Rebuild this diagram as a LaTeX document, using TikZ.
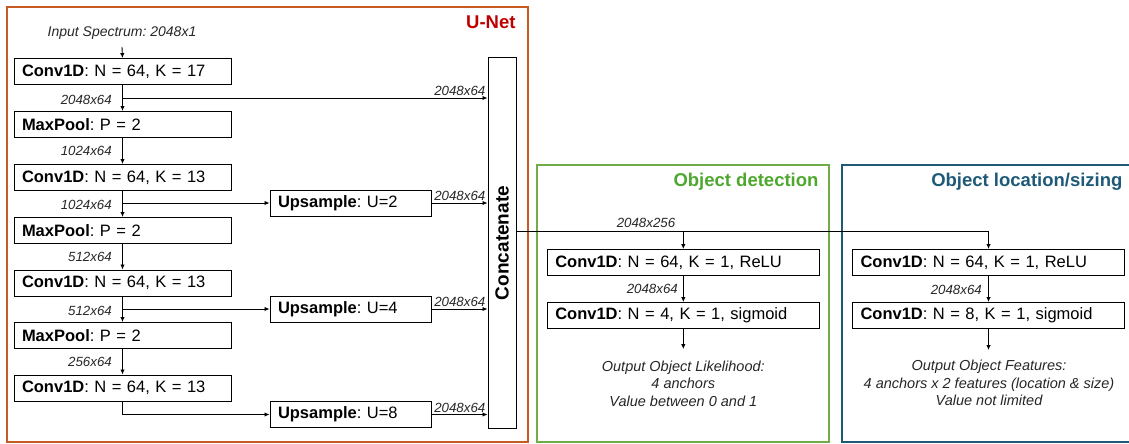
\documentclass[tikz,border=0pt]{standalone}
\usepackage{fontspec}
\setmainfont{Liberation Sans}
\usetikzlibrary{arrows.meta,calc}
\frenchspacing
\definecolor{unetorange}{HTML}{C65B24}
\definecolor{unetred}{HTML}{C00000}
\definecolor{detgreen}{HTML}{70AD47}
\definecolor{dettitle}{HTML}{4EA72E}
\definecolor{locblue}{HTML}{1E5A78}
\tikzset{
  frame/.style={draw, line width=1.4pt},
  lbox/.style={draw, line width=1pt, minimum height=26pt, inner xsep=8pt, inner ysep=0pt,
     text width=#1, align=left, font=\fontsize{16.5}{18}\selectfont},
  arr/.style={line width=0.9pt, -{Latex[length=5pt,width=4.5pt]}},
  dim/.style={font=\fontsize{13.3}{14}\selectfont\itshape, text=black!85, inner sep=1pt},
  ttl/.style={font=\fontsize{18.5}{20}\selectfont\bfseries, anchor=east},
  outtxt/.style={font=\fontsize{14.5}{17.5}\selectfont\itshape, text=black!85, align=center}
}
\begin{document}
\frenchspacing
\begin{tikzpicture}[x=1pt,y=-1pt]
\useasboundingbox (0,0) rectangle (1129,444);
% frames
\draw[frame, unetorange] (7,7) rectangle (528,442);
\draw[frame, detgreen] (537,165) rectangle (829,442);
\draw[frame, locblue] (842,165) rectangle (1140,442);
\node[ttl, text=unetred] (tu) at (519,22) {U-Net};
\node[ttl, text=dettitle] (td) at (822,181.5) {Object detection};
\node[ttl, text=locblue] (tl) at (1126,181.5) {Object location/sizing};

% left column
\node[font=\fontsize{14}{15}\selectfont\itshape, text=black!85] (inp) at (122,33) {Input Spectrum: 2048x1};
\node[lbox=201pt] (c1) at (122.5,71.5) {\textbf{Conv1D}: N = 64, K = 17};
\node[lbox=201pt] (m1) at (122.5,124.5) {\textbf{MaxPool}: P = 2};
\node[lbox=201pt] (c2) at (122.5,177.5) {\textbf{Conv1D}: N = 64, K = 13};
\node[lbox=201pt] (m2) at (122.5,230.5) {\textbf{MaxPool}: P = 2};
\node[lbox=201pt] (c3) at (122.5,283) {\textbf{Conv1D}: N = 64, K = 13};
\node[lbox=201pt] (m3) at (122.5,335.5) {\textbf{MaxPool}: P = 2};
\node[lbox=201pt] (c4) at (122.5,388) {\textbf{Conv1D}: N = 64, K = 13};

% upsample boxes
\node[lbox=145pt] (u2) at (350.5,203) {\textbf{Upsample}: U=2};
\node[lbox=145pt] (u4) at (350.5,309) {\textbf{Upsample}: U=4};
\node[lbox=145pt] (u8) at (350.5,414.5) {\textbf{Upsample}: U=8};

% concatenate
\node[draw, line width=1pt, minimum width=28pt, minimum height=370pt, inner sep=0pt] (cat) at (502,243) {};
\node[rotate=90, font=\fontsize{19}{20}\selectfont\bfseries] (catl) at (cat.center) {Concatenate};

% vertical arrows
\draw[arr] (inp.south |- 0,47) -- (c1.north);
\coordinate (j1) at (122.5,98);
\coordinate (j2) at (122.5,203);
\coordinate (j3) at (122.5,309);
\draw[arr] (c1) -- (m1);
\draw[arr] (m1) -- (c2);
\draw[arr] (c2) -- (m2);
\draw[arr] (m2) -- (c3);
\draw[arr] (c3) -- (m3);
\draw[arr] (m3) -- (c4);
\node[dim, anchor=east] (d1) at (113,100) {2048x64};
\node[dim, anchor=east] (d2) at (113,151) {1024x64};
\node[dim, anchor=east] (d3) at (113,205) {1024x64};
\node[dim, anchor=east] (d4) at (113,257) {512x64};
\node[dim, anchor=east] (d5) at (113,311) {512x64};
\node[dim, anchor=east] (d6) at (113,362) {256x64};

% branches
\draw[arr] (j1) -- (j1 -| cat.west);
\draw[arr] (j2) -- (u2.west);
\draw[arr] (j3) -- (u4.west);
\draw[arr] (c4.south) |- (u8.west);
\draw[arr] (u2.east) -- (u2.east -| cat.west);
\draw[arr] (u4.east) -- (u4.east -| cat.west);
\draw[arr] (u8.east) -- (u8.east -| cat.west);
\node[dim, anchor=south east] (e1) at ($(j1 -| cat.west)+(-1,-1)$) {2048x64};
\node[dim, anchor=south east] (e2) at ($(u2.east -| cat.west)+(-1,-1)$) {2048x64};
\node[dim, anchor=south east] (e3) at ($(u4.east -| cat.west)+(-1,-1)$) {2048x64};
\node[dim, anchor=south east] (e4) at ($(u8.east -| cat.west)+(-1,-1)$) {2048x64};

% heads
\node[lbox=256pt] (g1) at (683.3,262.5) {\textbf{Conv1D}: N = 64, K = 1, ReLU};
\node[lbox=256pt] (g2) at (683.3,315.5) {\textbf{Conv1D}: N = 4, K = 1, sigmoid};
\node[lbox=256pt] (r1) at (988.5,262.5) {\textbf{Conv1D}: N = 64, K = 1, ReLU};
\node[lbox=256pt] (r2) at (988.5,315.5) {\textbf{Conv1D}: N = 8, K = 1, sigmoid};

\coordinate (o) at (cat.east |- 0,231);
\draw[arr] (o) -| (r1.north);
\draw[arr] (o -| g1.north) -- (g1.north);
\node[dim, anchor=south] (d256) at (646,229) {2048x256};

\draw[arr] (g1) -- (g2);
\draw[arr] (r1) -- (r2);
\node[dim, anchor=east] (dg) at (679,289) {2048x64};
\node[dim, anchor=east] (dr) at (983,290) {2048x64};

\coordinate (go) at (683.3,349);
\coordinate (ro) at (988.5,350);
\draw[arr] (g2.south) -- (go);
\draw[arr] (r2.south) -- (ro);
\node[outtxt] (gt) at (683.3,383.5) {Output Object Likelihood:\\4 anchors\\Value between 0 and 1};
\node[outtxt] (rt) at (989,383) {Output Object Features:\\4 anchors x 2 features (location \& size)\\Value not limited};
\end{tikzpicture}
\end{document}
